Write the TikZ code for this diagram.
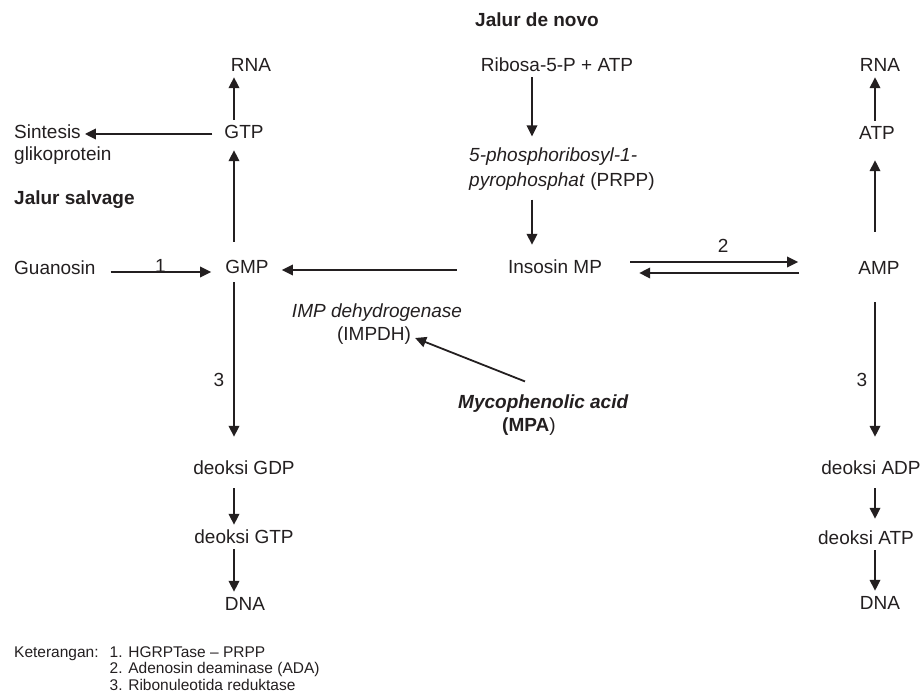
\documentclass[tikz,border=0pt]{standalone}
\usepackage{fontspec}
\setmainfont{Liberation Sans}
\usepackage{xcolor}
\usepackage{tikz}
\usetikzlibrary{arrows.meta,positioning,calc}

\definecolor{ink}{HTML}{231F20}

\tikzset{
  txt/.style={font=\fontsize{19}{24}\selectfont, text=ink, inner sep=0pt, minimum height=24pt},
  lab/.style={font=\fontsize{19}{24}\selectfont, text=ink, inner sep=0pt},
  arr/.style={draw=ink, line width=1.8pt, -{Triangle[length=11pt,width=10.5pt]}},
}

\begin{document}
\begin{tikzpicture}[x=1pt,y=-1pt]
    \useasboundingbox (0,0) rectangle (924,692);
    \coordinate (colG) at (234,0);
    \coordinate (colN) at (532,0);
    \coordinate (colA) at (875,0);

    \node[txt, font=\fontsize{19}{24}\selectfont\bfseries] (novo) at (537,20) {Jalur de novo};
    \node[txt] (rib) at (557,65) {Ribosa-5-P + ATP};
    \node[lab, align=left, anchor=west, font=\fontsize{19}{25}\selectfont] (prpp) at (469,169) {\textit{5-phosphoribosyl-1-}\\\textit{pyrophosphat} (PRPP)};
    \node[txt] (ins) at (555,267) {Insosin MP};

    \node[txt] (rnag) at (251,65) {RNA};
    \node[txt] (gtp) at (244,132) {GTP};
    \node[txt] (gmp) at (247,267) {GMP};
    \node[txt] (dgdp) at (244,468) {deoksi GDP};
    \node[txt] (dgtp) at (244,537) {deoksi GTP};
    \node[txt] (dnag) at (245,604) {DNA};
    \node[txt, anchor=west] (sint) at (14,132) {Sintesis};
    \node[txt, anchor=west] (gliko) at (14,156) {glikoprotein};
    \node[txt, anchor=west, font=\fontsize{19}{24}\selectfont\bfseries] (salv) at (14,200) {Jalur salvage};
    \node[txt, anchor=west] (guan) at (14,268) {Guanosin};

    \node[txt] (rnaa) at (880,65) {RNA};
    \node[txt] (atp) at (877,133) {ATP};
    \node[txt] (amp) at (879,268) {AMP};
    \node[txt] (dadp) at (871,468) {deoksi ADP};
    \node[txt] (datp) at (866,538) {deoksi ATP};
    \node[txt] (dnaa) at (880,603) {DNA};

    \node[txt, font=\fontsize{19}{24}\selectfont\itshape] (impn) at (377,313) {IMP dehydrogenase};
    \node[txt] (impdh) at (374,336) {(IMPDH)};
    \node[lab, align=left, anchor=west, font=\fontsize{19}{23}\selectfont] (mpa) at (458,415) {\textbf{\textit{Mycophenolic acid}}\\\hspace*{44pt}\textbf{(MPA})};

    \node[anchor=base west, inner sep=0pt, text=ink, font=\fontsize{15.5}{16.5}\selectfont] (ket) at (14,657) {\begin{tabular}[t]{@{}l@{\hspace{11pt}}l@{}}Keterangan: & 1. HGRPTase -- PRPP\\ & 2. Adenosin deaminase (ADA)\\ & 3. Ribonuleotida reduktase\end{tabular}};

    \draw[arr, shorten >=11pt] (rib.south -| colN) -- (prpp.north -| colN);
    \draw[arr, shorten <=9pt, shorten >=10pt] (prpp.south -| colN) -- (ins.north -| colN);

    \draw[arr] (gtp.north -| colG) -- (rnag.south -| colG);
    \draw[arr, shorten <=13pt, shorten >=6pt] (gmp.north -| colG) -- (gtp.south -| colG);
    \draw[arr, shorten <=3pt, shorten >=19pt] (gmp.south -| colG) -- (dgdp.north -| colG) node[lab, pos=.57, left=9pt] {3};
    \draw[arr, shorten <=8pt] (dgdp.south -| colG) -- (dgtp.north -| colG);
    \draw[arr] (dgtp.south -| colG) -- (dnag.north -| colG);

    \draw[arr] (atp.north -| colA) -- (rnaa.south -| colA);
    \draw[arr, shorten <=24pt, shorten >=15pt] (amp.north -| colA) -- (atp.south -| colA);
    \draw[arr, shorten <=22pt, shorten >=19pt] (amp.south -| colA) -- (dadp.north -| colA) node[lab, pos=.57, left=7pt] {3};
    \draw[arr, shorten <=8pt, shorten >=7pt] (dadp.south -| colA) -- (datp.north -| colA);
    \draw[arr] (datp.south -| colA) -- (dnaa.north -| colA);

    \draw[arr, shorten <=12pt, shorten >=4pt] ([yshift=-2pt]gtp.west) -- ([yshift=-2pt]gtp.west -| sint.east);
    \draw[arr, shorten <=15pt, shorten >=14pt] ([yshift=-4pt]guan.east) -- ([yshift=-4pt]guan.east -| gmp.west) node[lab, midway, anchor=south, yshift=-1pt] {1};
    \draw[arr, shorten <=51pt, shorten >=13pt] ([yshift=-3pt]ins.west) -- ([yshift=-3pt]ins.west -| gmp.east);
    \draw[arr, shorten <=28pt, shorten >=60pt] ([yshift=5pt]ins.east) -- ([yshift=5pt]ins.east -| amp.west) node[lab, midway, above=9pt, xshift=-7pt] {2};
    \draw[arr, shorten <=59pt, shorten >=37pt] ([yshift=-5pt]amp.west) -- ([yshift=-5pt]amp.west -| ins.east);

    \draw[arr] ([shift={(67pt,13pt)}]mpa.north west) -- ([shift={(4pt,-2pt)}]impdh.east);
\end{tikzpicture}
\end{document}
